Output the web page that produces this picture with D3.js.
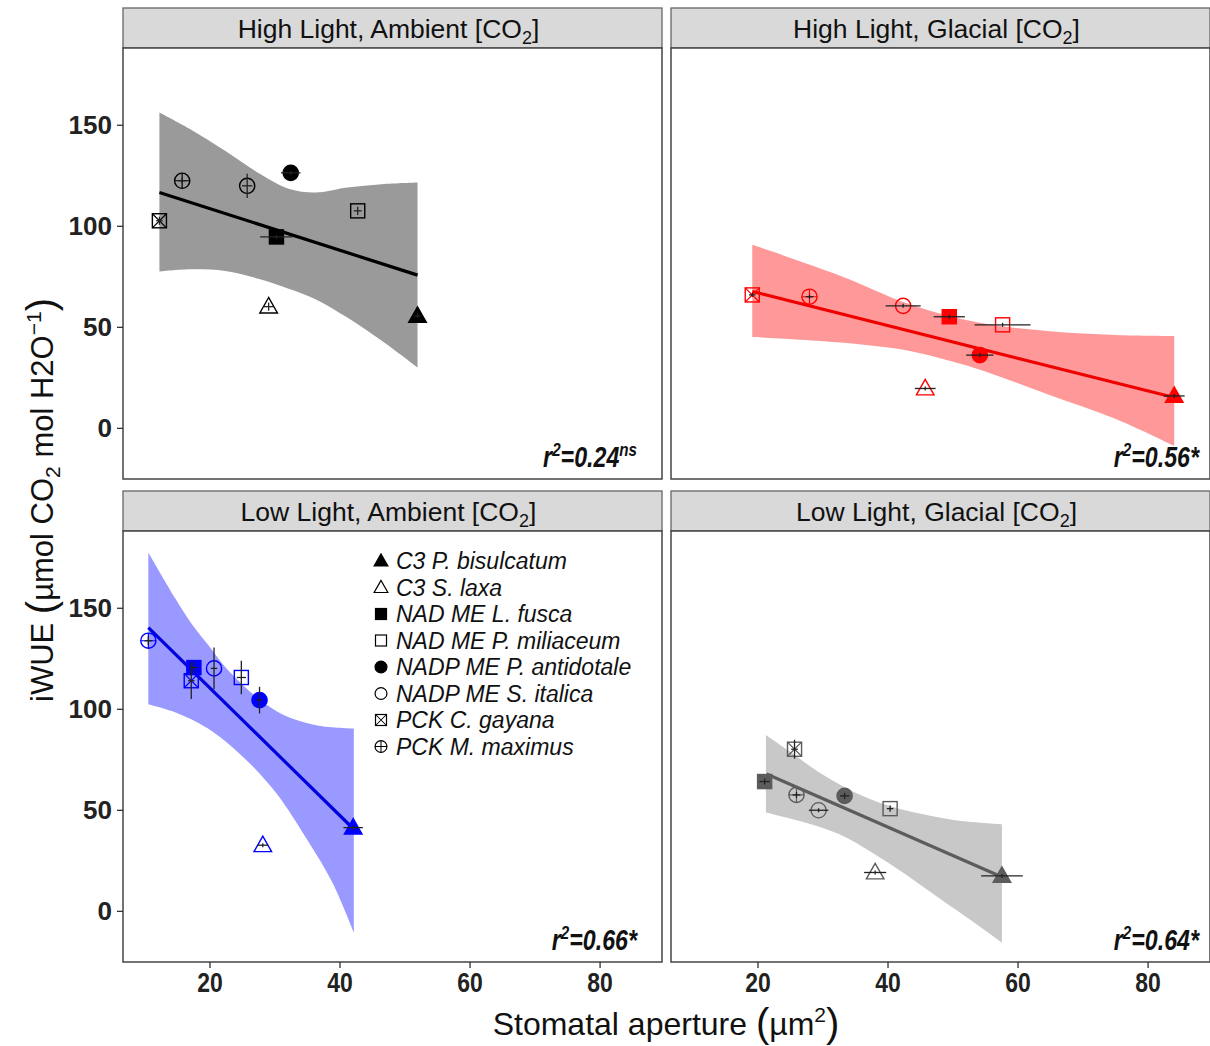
<!DOCTYPE html>
<html><head><meta charset="utf-8">
<script src="https://cdn.jsdelivr.net/npm/d3@7"></script>
<style>body{margin:0;background:#fff} svg{display:block;font-family:"Liberation Sans",Arial,sans-serif}</style>
</head><body>
<svg id="chart" width="1210" height="1046"></svg>
<script>
// ---------- data ----------
const species = ["C3 P. bisulcatum","C3 S. laxa","NAD ME L. fusca","NAD ME P. miliaceum",
                 "NADP ME P. antidotale","NADP ME S. italica","PCK C. gayana","PCK M. maximus"];
const shapes  = ["triFilled","triOpen","sqFilled","sqOpen","circFilled","circOpen","sqCross","circPlus"];
const panelLight = ["High Light","High Light","Low Light","Low Light"];
const panelCO2   = ["Ambient","Glacial","Ambient","Glacial"];
const r2Values = ["0.24","0.56","0.66","0.64"];
const r2Sup    = ["ns","","",""];
const r2Tail   = ["","*","*","*"];
const xTicks = [20,40,60,80];
const yTicks = [0,50,100,150];

// High Light, Ambient
const hlAmbX    = [52.0, 29.1, 30.3, 42.8, 32.5, 25.8, 12.3, 15.8];
const hlAmbY    = [55.4, 60.0, 94.5, 107.4, 126.2, 119.8, 102.5, 122.3];
const hlAmbXErr = [0.5, 0.8, 2.5, 0.6, 1.5, 0.8, 0.5, 0.6];
const hlAmbYErr = [1.0, 2.0, 1.0, 2.0, 1.0, 6.0, 2.0, 1.5];
const hlAmbFitX = [12.3, 52.0];
const hlAmbFitY = [116.5, 75.6];
const hlAmbBandUpX = [12.3, 17.0, 22.4, 27.8, 32.3, 36.3, 41.2, 46.5, 52.0];
const hlAmbBandUp  = [156.1, 147.9, 137.1, 125.6, 118.2, 116.5, 119.0, 120.6, 121.4];
const hlAmbBandLoX = [12.3, 17.0, 22.4, 27.8, 32.3, 36.3, 41.2, 46.5, 52.0];
const hlAmbBandLo  = [77.4, 78.5, 77.7, 73.6, 68.7, 63.7, 54.6, 43.1, 29.9];

// High Light, Glacial
const hlGlaX    = [84.1, 45.8, 49.5, 57.7, 54.2, 42.4, 19.2, 28.0];
const hlGlaY    = [15.8, 19.5, 55.0, 51.0, 36.0, 60.4, 65.8, 64.9];
const hlGlaXErr = [1.6, 1.6, 2.4, 4.3, 2.1, 2.7, 0.5, 0.6];
const hlGlaYErr = [1.0, 1.0, 1.0, 1.0, 1.0, 1.0, 1.0, 1.0];
const hlGlaFitX = [19.2, 84.1];
const hlGlaFitY = [67.5, 15.0];
const hlGlaBandUpX = [19.2, 32.8, 43.4, 54.0, 64.6, 75.2, 84.1];
const hlGlaBandUp  = [90.6, 75.2, 61.2, 52.1, 48.0, 46.0, 45.5];
const hlGlaBandLoX = [19.2, 32.8, 43.4, 48.7, 54.0, 64.6, 75.2, 84.1];
const hlGlaBandLo  = [45.0, 42.2, 38.1, 34.0, 29.0, 16.7, 4.3, -8.9];

// Low Light, Ambient
const llAmbX    = [42.1, 28.2, 17.6, 24.9, 27.7, 20.7, 17.2, 10.6];
const llAmbY    = [41.2, 32.5, 120.4, 115.5, 104.3, 120.0, 113.9, 133.7];
const llAmbXErr = [1.5, 0.8, 0.6, 0.7, 0.5, 0.5, 0.5, 0.6];
const llAmbYErr = [1.0, 1.0, 3.0, 8.3, 6.6, 10.3, 9.0, 2.0];
const llAmbFitX = [10.6, 42.2];
const llAmbFitY = [140.2, 40.4];
const llAmbBandUpX = [10.6, 14.8, 17.3, 19.9, 22.5, 25.0, 27.6, 30.2, 32.7, 36.8, 42.2];
const llAmbBandUp  = [177.4, 154.3, 141.9, 131.2, 120.4, 112.2, 104.8, 99.0, 95.2, 91.6, 90.2];
const llAmbBandLoX = [10.6, 14.8, 19.9, 25.0, 30.2, 35.3, 38.9, 42.2];
const llAmbBandLo  = [102.3, 98.2, 90.0, 76.7, 58.6, 33.8, 14.0, -10.7];

// Low Light, Glacial
const llGlaX    = [57.6, 38.1, 21.1, 40.4, 33.4, 29.4, 25.7, 26.0];
const llGlaY    = [17.3, 19.0, 64.0, 50.6, 56.9, 49.8, 80.0, 57.4];
const llGlaXErr = [3.2, 1.7, 0.8, 0.5, 0.7, 1.5, 0.5, 0.6];
const llGlaYErr = [1.0, 1.0, 1.5, 1.5, 1.5, 1.0, 4.7, 1.5];
const llGlaFitX = [21.4, 57.6];
const llGlaFitY = [67.7, 16.8];
const llGlaBandUpX = [21.3, 24.8, 29.9, 35.0, 40.2, 45.3, 50.4, 57.6];
const llGlaBandUp  = [87.1, 79.2, 67.7, 58.6, 52.0, 47.9, 44.9, 42.9];
const llGlaBandLoX = [21.3, 27.3, 32.5, 37.6, 42.7, 47.8, 53.0, 57.6];
const llGlaBandLo  = [48.7, 43.7, 38.0, 28.9, 18.2, 6.6, -5.0, -15.7];

// ---------- layout / style ----------
const W = 539, H = 431, stripH = 40;
const colX = [123, 671], rowY = [48, 531];
const xDomain = [6.7, 89.6], yDomain = [-25.3, 188];

const panels = [
  {X:hlAmbX,Y:hlAmbY,XE:hlAmbXErr,YE:hlAmbYErr,fx:hlAmbFitX,fy:hlAmbFitY,ux:hlAmbBandUpX,u:hlAmbBandUp,lx:hlAmbBandLoX,l:hlAmbBandLo,
   col:0,row:0,pt:"#000000",band:"#9a9a9a",line:"#000000",r2Right:637},
  {X:hlGlaX,Y:hlGlaY,XE:hlGlaXErr,YE:hlGlaYErr,fx:hlGlaFitX,fy:hlGlaFitY,ux:hlGlaBandUpX,u:hlGlaBandUp,lx:hlGlaBandLoX,l:hlGlaBandLo,
   col:1,row:0,pt:"#ff0000",band:"#ff9999",line:"#ee0000",r2Right:1199},
  {X:llAmbX,Y:llAmbY,XE:llAmbXErr,YE:llAmbYErr,fx:llAmbFitX,fy:llAmbFitY,ux:llAmbBandUpX,u:llAmbBandUp,lx:llAmbBandLoX,l:llAmbBandLo,
   col:0,row:1,pt:"#0000ff",band:"#9999ff",line:"#0000dd",r2Right:637},
  {X:llGlaX,Y:llGlaY,XE:llGlaXErr,YE:llGlaYErr,fx:llGlaFitX,fy:llGlaFitY,ux:llGlaBandUpX,u:llGlaBandUp,lx:llGlaBandLoX,l:llGlaBandLo,
   col:1,row:1,pt:"#5c5c5c",band:"#c8c8c8",line:"#5c5c5c",r2Right:1199}
];

const svg = d3.select("#chart");

function marker(g, shape, cx, cy, col, s, sw){
  const r = s/2;
  if (shape === "triFilled" || shape === "triOpen"){
    const h = s*0.95;
    const d = `M${cx},${cy - h*0.6}L${cx - r*1.1},${cy + h*0.42}L${cx + r*1.1},${cy + h*0.42}Z`;
    g.append("path").attr("d", d)
      .attr("fill", shape === "triFilled" ? col : "none")
      .attr("stroke", col).attr("stroke-width", sw).attr("stroke-linejoin","miter");
  } else if (shape.startsWith("sq")){
    const a = r*0.88;
    g.append("rect").attr("x", cx-a).attr("y", cy-a).attr("width", 2*a).attr("height", 2*a)
      .attr("fill", shape === "sqFilled" ? col : "none")
      .attr("stroke", col).attr("stroke-width", sw);
    if (shape === "sqCross"){
      g.append("path").attr("d", `M${cx-a},${cy-a}L${cx+a},${cy+a}M${cx+a},${cy-a}L${cx-a},${cy+a}`)
        .attr("stroke", col).attr("stroke-width", sw*0.85).attr("fill","none");
    }
  } else {
    const rr = r*0.95;
    g.append("circle").attr("cx", cx).attr("cy", cy).attr("r", rr)
      .attr("fill", shape === "circFilled" ? col : "none")
      .attr("stroke", col).attr("stroke-width", sw);
    if (shape === "circPlus"){
      g.append("path").attr("d", `M${cx-rr},${cy}L${cx+rr},${cy}M${cx},${cy-rr}L${cx},${cy+rr}`)
        .attr("stroke", col).attr("stroke-width", sw*0.85).attr("fill","none");
    }
  }
}

panels.forEach((p, pi) => {
  const x0 = colX[p.col], y0 = rowY[p.row];
  const x = d3.scaleLinear().domain(xDomain).range([x0, x0 + W]);
  const y = d3.scaleLinear().domain(yDomain).range([y0 + H, y0]);
  const g = svg.append("g");

  // strip
  g.append("rect").attr("x", x0).attr("y", y0 - stripH).attr("width", W).attr("height", stripH)
    .attr("fill", "#d9d9d9").attr("stroke", "#666").attr("stroke-width", 1.3);
  const st = g.append("text").attr("x", x0 + W/2 - 4).attr("y", y0 - 10)
    .attr("text-anchor","middle").attr("font-size", 26.5).attr("fill","#111");
  st.append("tspan").text(`${panelLight[pi]}, ${panelCO2[pi]} [CO`);
  st.append("tspan").attr("font-size", 18).attr("dy", 6).text("2");
  st.append("tspan").attr("dy", -6).text("]");

  g.append("rect").attr("x", x0).attr("y", y0).attr("width", W).attr("height", H)
    .attr("fill", "#fff");

  // confidence band
  const lg = d3.line().x(d => x(d[0])).y(d => y(d[1])).curve(d3.curveCatmullRom);
  const up = p.ux.map((v,i) => [v, p.u[i]]);
  const lo = p.lx.map((v,i) => [v, p.l[i]]).reverse();
  const bandPath = lg(up) + "L" + lg(lo).slice(1) + "Z";
  g.append("path").attr("d", bandPath).attr("fill", p.band).attr("stroke","none");

  // fit line
  g.append("path").attr("d", d3.line().x(d => x(d[0])).y(d => y(d[1]))(p.fx.map((v,i)=>[v,p.fy[i]])))
    .attr("stroke", p.line).attr("stroke-width", 3.2).attr("fill","none");

  species.forEach((sp, i) => {
    marker(g, shapes[i], x(p.X[i]), y(p.Y[i]), p.pt, 16, 1.4);
  });
  species.forEach((sp, i) => {
    g.append("line").attr("x1", x(p.X[i]-p.XE[i])).attr("x2", x(p.X[i]+p.XE[i]))
      .attr("y1", y(p.Y[i])).attr("y2", y(p.Y[i])).attr("stroke","#222").attr("stroke-width",1.3);
    g.append("line").attr("x1", x(p.X[i])).attr("x2", x(p.X[i]))
      .attr("y1", y(p.Y[i]-p.YE[i])).attr("y2", y(p.Y[i]+p.YE[i])).attr("stroke","#222").attr("stroke-width",1.3);
  });

  g.append("rect").attr("x", x0).attr("y", y0).attr("width", W).attr("height", H)
    .attr("fill", "none").attr("stroke", "#444").attr("stroke-width", 1.5);

  // r2 label
  const rg = g.append("g").attr("transform", `translate(${p.r2Right},${y0 + H - 12}) scale(0.8,1)`);
  const rt = rg.append("text").attr("text-anchor","end").attr("font-size", 29)
    .attr("font-weight","bold").attr("font-style","italic").attr("fill","#111");
  rt.append("tspan").text("r");
  rt.append("tspan").attr("font-size", 19).attr("dy", -11).text("2");
  rt.append("tspan").attr("dy", 11).text("=" + r2Values[pi] + r2Tail[pi]);
  if (r2Sup[pi]) rt.append("tspan").attr("font-size", 19).attr("dy", -11).text(r2Sup[pi]);

  if (p.col === 0){
    const ya = g.append("g").attr("transform", `translate(${x0},0)`)
      .call(d3.axisLeft(y).tickValues(yTicks).tickSize(6).tickPadding(5));
    ya.select(".domain").remove();
    ya.selectAll("line").attr("stroke","#333").attr("stroke-width",1.3);
    ya.selectAll("text").attr("font-size", 26).attr("font-weight","bold").attr("fill","#222")
      .attr("font-family","'Liberation Sans',Arial,sans-serif");
  }
  if (p.row === 1){
    const xa = g.append("g").attr("transform", `translate(0,${y0 + H})`)
      .call(d3.axisBottom(x).tickValues(xTicks).tickSize(6));
    xa.select(".domain").remove();
    xa.selectAll("line").attr("stroke","#333").attr("stroke-width",1.3);
    xa.selectAll("text").attr("font-size", 27).attr("font-weight","bold").attr("fill","#222")
      .attr("font-family","'Liberation Sans',Arial,sans-serif")
      .attr("y", 11).attr("transform","scale(0.85,1)");
  }

  if (pi === 2){
    species.forEach((sp, i) => {
      const cy = 561 + i*26.5;
      marker(g, shapes[i], 381, cy, "#000", 12.5, 1.2);
      g.append("text").attr("x", 396).attr("y", cy + 8).attr("font-size", 23)
        .attr("font-style","italic").attr("fill","#111").text(sp);
    });
  }
});

// axis titles
const yt = svg.append("text").attr("transform","translate(53,500) rotate(-90)")
  .attr("text-anchor","middle").attr("font-size", 31).attr("fill","#111");
yt.append("tspan").text("iWUE  ");
yt.append("tspan").attr("font-size", 40).attr("dy", 2).text("(");
yt.append("tspan").attr("dy", -2).text("\u00B5mol CO");
yt.append("tspan").attr("font-size", 21).attr("dy", 7).text("2");
yt.append("tspan").attr("dy", -7).text(" mol H2O");
yt.append("tspan").attr("font-size", 21).attr("dy", -12).text("\u22121");
yt.append("tspan").attr("font-size", 40).attr("dy", 14).text(")");

const xt = svg.append("text").attr("x", 666).attr("y", 1035)
  .attr("text-anchor","middle").attr("font-size", 32).attr("fill","#111");
xt.append("tspan").text("Stomatal aperture  ");
xt.append("tspan").attr("font-size", 40).attr("dy", 2).text("(");
xt.append("tspan").attr("dy", -2).text("\u00B5m");
xt.append("tspan").attr("font-size", 21).attr("dy", -13).text("2");
xt.append("tspan").attr("font-size", 40).attr("dy", 15).text(")");
</script>
</body></html>
